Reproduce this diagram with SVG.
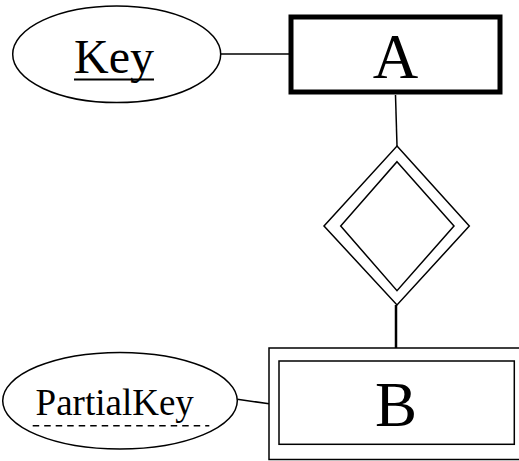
<svg xmlns="http://www.w3.org/2000/svg" width="519" height="461" viewBox="0 0 519 461">
<style>
.s{fill:#fff;stroke:#000;stroke-width:1.5}
.t{fill:#000;text-anchor:middle}
.c{stroke:#000;stroke-width:1.5;fill:none}
</style>
<rect width="519" height="461" fill="#fff"/>
<g id="connectors">
<line class="c" x1="220.7" y1="54" x2="289" y2="54"/>
<line class="c" x1="395.5" y1="95" x2="397" y2="146"/>
<line class="c" x1="396" y1="305" x2="396" y2="348" style="stroke-width:2.5"/>
<line class="c" x1="237.3" y1="399.3" x2="269" y2="403.7"/>
</g>
<g id="key">
<ellipse class="s" cx="116.7" cy="54.3" rx="104" ry="48.3"/>
<text class="t" font-family="Liberation Serif, DejaVu Serif, serif" x="114" y="73.3" font-size="48">Key</text>
<line x1="74" y1="79.5" x2="154" y2="79.5" stroke="#000" stroke-width="2"/>
</g>
<g id="A">
<rect x="291" y="17" width="209" height="75" fill="#fff" stroke="#000" stroke-width="5"/>
<text class="t" font-family="Liberation Serif, DejaVu Serif, serif" x="395.5" y="77.7" font-size="63">A</text>
</g>
<g id="rel">
<polygon class="s" points="397,146 469.3,226 397,305 324,226"/>
<polygon class="s" points="397,161.7 454,226 397,290.7 340.7,226"/>
</g>
<g id="partialkey">
<ellipse class="s" cx="120" cy="400.7" rx="117.3" ry="48.3"/>
<text class="t" font-family="Liberation Serif, DejaVu Serif, serif" x="114.7" y="415" font-size="37">PartialKey</text>
<line x1="32.7" y1="425.7" x2="209.3" y2="425.7" stroke="#000" stroke-width="1.5" stroke-dasharray="6.5 5"/>
</g>
<g id="B">
<rect class="s" x="269" y="348" width="260" height="111.5"/>
<rect class="s" x="279" y="361" width="235.3" height="83.3"/>
<text class="t" font-family="Liberation Serif, DejaVu Serif, serif" x="396" y="426" font-size="63">B</text>
</g>
</svg>
